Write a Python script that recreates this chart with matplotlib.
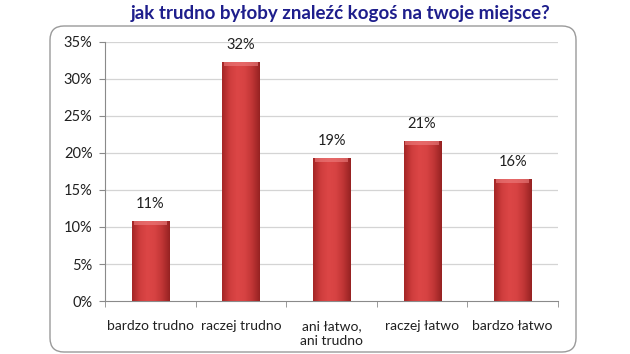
import numpy as np
import matplotlib.pyplot as plt
from matplotlib.patches import FancyBboxPatch
from matplotlib.colors import LinearSegmentedColormap

plt.rcParams['font.family'] = ['Lato', 'DejaVu Sans']

# data
categories = ['bardzo trudno', 'raczej trudno', 'ani łatwo,\nani trudno', 'raczej łatwo', 'bardzo łatwo']
values = [10.8, 32.3, 19.3, 21.6, 16.5]
labels = ['11%', '32%', '19%', '21%', '16%']
yticks = [0, 5, 10, 15, 20, 25, 30, 35]

fig = plt.figure(figsize=(6.3, 3.54), dpi=100)
fig.patch.set_facecolor('white')

# rounded frame around the chart area (in inches)
frame = FancyBboxPatch((0.50, 0.02), 5.26, 3.26,
                       boxstyle='round,pad=0,rounding_size=0.14',
                       transform=fig.dpi_scale_trans, facecolor='white',
                       edgecolor='#9a9a9a', linewidth=1.0, zorder=-5)
fig.add_artist(frame)

ax = fig.add_axes([0.1667, 0.1497, 0.719, 0.7317])
ax.set_facecolor('none')
ax.set_zorder(2)

for y in yticks[1:]:
    ax.axhline(y, color='#d4d4d4', linewidth=0.9, zorder=1)

cmap = LinearSegmentedColormap.from_list(
    'bar', ['#a42626', '#cf3d3d', '#dc4646', '#d74343', '#c03535', '#962222'])
grad = np.linspace(0, 1, 64).reshape(1, -1)

bw = 0.41
bars = ax.bar(range(len(values)), values, width=bw, color='#cf3f3f',
              edgecolor='#8a1a1a', linewidth=0.6, zorder=2)
for b in bars:
    x0, h = b.get_x(), b.get_height()
    im = ax.imshow(grad, cmap=cmap, aspect='auto', extent=(x0, x0 + bw, 0, h),
                   zorder=3, interpolation='bicubic')
    im.set_clip_path(b)
    # top bevel
    ax.fill_between([x0 + 0.02, x0 + bw - 0.02], h - 0.5, h, color='#ee8080',
                    alpha=0.6, zorder=4, linewidth=0)
ax.set_xlim(-0.5, 4.5)
ax.set_ylim(0, 35)

for i, (v, t) in enumerate(zip(values, labels)):
    ax.annotate(t, (i, v), xytext=(0, 7), textcoords='offset points',
                ha='center', va='bottom', fontsize=10.5, color='#202020')

ax.set_yticks(yticks)
ax.set_yticklabels([f'{t}%' for t in yticks], fontsize=10.5, color='#202020')
ax.set_xticks(range(len(categories)))
ax.set_xticklabels(categories, fontsize=10, color='#202020', linespacing=1.3, va='top')
ax.set_xticks(np.arange(-0.5, 5.0, 1.0), minor=True)
ax.tick_params(axis='x', which='major', length=0, pad=14)
ax.tick_params(axis='x', which='minor', length=4, color='#8a8a8a', direction='out')
ax.tick_params(axis='y', length=4, color='#8a8a8a', direction='out', pad=5)

for s in ['top', 'right']:
    ax.spines[s].set_visible(False)
ax.spines['left'].set_color('#8a8a8a')
ax.spines['bottom'].set_color('#8a8a8a')

fig.text(0.54, 0.963, 'jak trudno byłoby znaleźć kogoś na twoje miejsce?',
         ha='center', va='center', fontsize=13.5, fontweight='bold', color='#1e1e8c')

fig.savefig('out.png', dpi=100)
